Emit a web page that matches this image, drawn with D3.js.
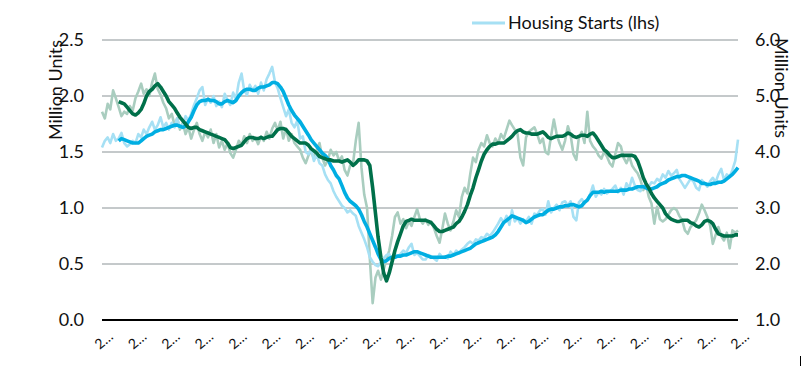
<!DOCTYPE html>
<html><head><meta charset="utf-8">
<script src="https://cdn.jsdelivr.net/npm/d3@7"></script>
<style>
html,body{margin:0;padding:0;background:#fff;}
svg{display:block;font-family:Lato,"Open Sans",sans-serif;}
</style></head><body>
<svg id="chart" width="801" height="367"></svg>
<script>
// ---- data ----
const startMonth = "2000-12";
const tickLabels = ["2000","2001","2002","2003","2004","2005","2006","2007","2008","2009",
  "2010","2011","2012","2013","2014","2015","2016","2017","2018","2019"];
const leftTicks = [0.0, 0.5, 1.0, 1.5, 2.0, 2.5];
const rightTicks = [1.0, 2.0, 3.0, 4.0, 5.0, 6.0];

// Housing starts, monthly (lhs, million units)
const housingStarts = [
1.54,1.60,1.63,1.58,1.66,1.60,1.62,1.67,1.58,1.55,1.57,1.60,
1.58,1.66,1.63,1.70,1.66,1.72,1.77,1.70,1.74,1.81,1.72,1.76,
1.70,1.76,1.72,1.80,1.72,1.74,1.82,1.78,1.84,1.92,1.98,2.05,
2.08,1.92,1.98,1.94,2.00,1.91,1.95,1.90,2.02,1.96,1.92,2.03,
1.97,2.12,2.20,2.05,2.01,2.10,2.05,2.09,2.02,2.12,2.05,2.15,
2.20,2.26,2.12,2.07,1.98,1.90,1.82,1.88,1.76,1.72,1.78,1.62,
1.64,1.50,1.48,1.53,1.42,1.48,1.40,1.38,1.30,1.25,1.22,1.15,
1.10,1.06,1.02,1.00,0.96,0.98,0.95,0.93,0.84,0.78,0.72,0.65,
0.56,0.52,0.49,0.48,0.52,0.55,0.58,0.59,0.53,0.59,0.57,0.59,
0.62,0.60,0.65,0.68,0.58,0.60,0.57,0.54,0.54,0.58,0.57,0.55,
0.53,0.59,0.56,0.57,0.55,0.61,0.58,0.62,0.60,0.63,0.65,0.68,
0.70,0.68,0.72,0.71,0.74,0.73,0.77,0.75,0.78,0.82,0.86,0.91,
0.87,0.93,0.85,0.98,0.88,0.91,0.86,0.90,0.88,0.92,0.86,0.95,
0.94,0.98,0.99,0.94,1.06,0.96,1.00,1.03,0.98,1.05,1.06,1.02,
1.06,0.92,0.89,1.05,1.08,1.04,1.07,1.12,1.20,1.10,1.14,1.12,
1.17,1.13,1.15,1.17,1.20,1.14,1.18,1.12,1.22,1.18,1.27,1.20,
1.16,1.15,1.20,1.18,1.19,1.23,1.22,1.26,1.24,1.30,1.27,1.33,
1.29,1.31,1.34,1.26,1.22,1.18,1.22,1.26,1.24,1.18,1.16,1.25,
1.22,1.19,1.24,1.27,1.23,1.30,1.35,1.25,1.30,1.28,1.34,1.42,
1.61];

// Housing starts, moving average (lhs)
const housingStartsAvg = [
null,null,null,null,null,null,1.60,1.62,1.61,1.60,1.59,1.58,
1.58,1.58,1.60,1.62,1.64,1.65,1.66,1.68,1.69,1.70,1.70,1.71,
1.72,1.73,1.74,1.74,1.73,1.72,1.73,1.77,1.81,1.87,1.92,1.95,
1.96,1.96,1.97,1.96,1.96,1.95,1.93,1.93,1.95,1.96,1.95,1.94,
1.96,2.00,2.03,2.05,2.06,2.06,2.05,2.05,2.07,2.08,2.08,2.09,
2.10,2.12,2.12,2.11,2.08,2.04,1.98,1.92,1.87,1.83,1.80,1.77,
1.73,1.69,1.65,1.61,1.58,1.55,1.52,1.49,1.47,1.44,1.38,1.34,
1.29,1.26,1.20,1.14,1.09,1.06,1.04,1.02,0.99,0.94,0.88,0.83,
0.77,0.71,0.65,0.59,0.54,0.52,0.53,0.55,0.56,0.56,0.57,0.57,
0.58,0.58,0.59,0.60,0.61,0.61,0.60,0.59,0.58,0.57,0.56,0.56,
0.56,0.56,0.56,0.56,0.57,0.57,0.58,0.59,0.60,0.61,0.62,0.63,
0.64,0.66,0.68,0.69,0.70,0.71,0.72,0.73,0.74,0.76,0.79,0.83,
0.87,0.89,0.91,0.93,0.92,0.91,0.90,0.89,0.87,0.88,0.90,0.92,
0.93,0.94,0.94,0.96,0.98,0.99,0.99,1.00,1.01,1.01,1.02,1.02,
1.03,1.03,1.02,1.01,1.02,1.05,1.07,1.11,1.14,1.14,1.14,1.15,
1.14,1.15,1.15,1.15,1.15,1.15,1.16,1.16,1.16,1.17,1.17,1.18,
1.19,1.19,1.19,1.18,1.17,1.17,1.18,1.19,1.21,1.22,1.23,1.25,
1.26,1.27,1.28,1.28,1.29,1.29,1.28,1.27,1.26,1.25,1.24,1.22,
1.22,1.21,1.21,1.22,1.22,1.23,1.23,1.24,1.26,1.28,1.30,1.33,
1.36];

// Home sales, monthly (rhs, million units)
const homeSales = [
4.72,4.60,4.86,4.76,5.10,4.96,4.80,4.64,4.72,4.68,4.82,4.74,
4.96,5.08,5.22,5.04,5.12,5.00,5.24,5.40,5.12,5.02,4.88,4.78,
4.60,4.68,4.48,4.60,4.40,4.52,4.32,4.44,4.24,4.40,4.52,4.32,
4.20,4.36,4.26,4.40,4.16,4.32,4.08,4.20,4.04,4.16,3.98,3.90,
4.04,4.20,4.12,4.28,4.16,4.32,4.20,4.26,4.14,4.28,4.20,4.36,
4.24,4.42,4.52,4.38,4.54,4.24,4.42,4.20,4.32,4.16,4.10,4.04,
3.90,3.80,3.94,4.02,3.88,4.04,4.16,3.90,3.76,3.86,4.04,3.94,
4.00,3.84,3.92,3.68,3.58,3.76,3.80,4.20,4.52,3.72,3.24,3.00,
2.10,1.30,1.76,1.88,1.72,1.90,2.08,2.24,2.50,2.84,2.92,2.72,
2.80,2.64,2.76,2.68,2.84,2.98,2.80,2.72,2.80,2.70,2.76,2.64,
2.50,2.38,2.64,2.90,2.72,2.60,2.76,2.96,2.84,3.20,3.36,3.26,
3.60,3.90,3.82,4.04,4.16,4.10,4.30,4.16,4.10,4.24,4.16,4.32,
4.24,4.40,4.56,4.48,4.40,4.32,3.90,3.76,4.26,4.36,4.40,4.44,
4.32,4.16,4.24,4.00,3.96,4.28,4.58,4.32,4.16,4.04,4.20,4.46,
4.30,3.96,3.86,4.26,4.36,4.16,4.72,4.20,4.10,4.04,3.94,3.88,
4.00,3.92,3.80,3.74,3.96,4.16,4.10,3.90,3.80,3.92,3.76,3.68,
3.62,3.50,3.32,3.44,3.20,3.08,2.72,3.02,2.80,2.76,2.80,2.88,
2.96,3.00,2.96,2.86,2.78,2.60,2.54,2.66,2.72,2.78,2.90,3.06,
2.96,2.84,2.68,2.36,2.52,2.66,2.50,2.42,2.56,2.28,2.60,2.56,
2.60];

// Home sales, moving average (rhs)
const homeSalesAvg = [
null,null,null,null,null,null,4.90,4.88,4.86,4.80,4.74,4.68,
4.66,4.70,4.76,4.86,5.00,5.08,5.12,5.18,5.22,5.16,5.08,5.00,
4.90,4.84,4.78,4.70,4.62,4.56,4.50,4.44,4.42,4.44,4.44,4.40,
4.38,4.36,4.34,4.32,4.30,4.28,4.26,4.24,4.22,4.16,4.08,4.06,
4.08,4.10,4.12,4.18,4.24,4.26,4.26,4.24,4.24,4.26,4.24,4.26,
4.28,4.28,4.34,4.40,4.42,4.42,4.40,4.34,4.28,4.24,4.20,4.16,
4.16,4.16,4.12,4.06,4.02,3.98,3.92,3.90,3.88,3.86,3.86,3.84,
3.84,3.84,3.82,3.84,3.86,3.82,3.76,3.80,3.86,3.86,3.86,3.84,
3.76,3.36,2.90,2.48,2.12,1.84,1.70,1.84,2.04,2.24,2.40,2.54,
2.68,2.76,2.78,2.80,2.78,2.78,2.78,2.78,2.78,2.76,2.74,2.68,
2.62,2.58,2.58,2.60,2.62,2.64,2.66,2.72,2.76,2.84,2.94,3.06,
3.22,3.36,3.54,3.68,3.84,3.96,4.04,4.10,4.14,4.14,4.16,4.16,
4.16,4.20,4.24,4.28,4.34,4.38,4.40,4.36,4.34,4.34,4.32,4.32,
4.32,4.34,4.36,4.32,4.26,4.24,4.26,4.28,4.28,4.28,4.30,4.34,
4.32,4.28,4.26,4.28,4.30,4.30,4.28,4.32,4.34,4.28,4.20,4.12,
4.04,4.00,3.94,3.90,3.90,3.92,3.94,3.94,3.94,3.94,3.94,3.92,
3.84,3.70,3.54,3.44,3.36,3.26,3.18,3.12,3.06,3.00,2.90,2.84,
2.80,2.78,2.76,2.76,2.78,2.78,2.78,2.74,2.72,2.68,2.66,2.70,
2.76,2.78,2.76,2.72,2.62,2.54,2.52,2.50,2.50,2.50,2.50,2.52,
2.52];

// ---- chart ----
const svg = d3.select("#chart");
const parse = d3.timeParse("%Y-%m");
const months = d3.timeMonth.range(parse(startMonth), d3.timeMonth.offset(parse(startMonth), housingStarts.length));
const plotL = 102, plotR = 738, plotT = 40, plotB = 320;

const x = d3.scaleTime().domain([months[0], months[months.length - 1]]).range([plotL, plotR]);
const yL = d3.scaleLinear().domain([0, 2.5]).range([plotB, plotT]);
const yR = d3.scaleLinear().domain([1, 6]).range([plotB, plotT]);

// gridlines
svg.append("g").selectAll("line").data(leftTicks.filter(d => d > 0)).join("line")
  .attr("x1", plotL).attr("x2", plotR)
  .attr("y1", d => yL(d)).attr("y2", d => yL(d))
  .attr("stroke", "#8a9396").attr("stroke-width", 1);

// left axis labels
const axL = svg.append("g").attr("transform", `translate(${plotL},0)`)
  .call(d3.axisLeft(yL).tickValues(leftTicks).tickFormat(d3.format(".1f")).tickSize(0).tickPadding(18));
axL.select(".domain").remove();
axL.selectAll("text").attr("font-size", 18).attr("fill", "#111").attr("font-family", "Lato, sans-serif");

// right axis labels
const axR = svg.append("g").attr("transform", `translate(${plotR},0)`)
  .call(d3.axisRight(yR).tickValues(rightTicks).tickFormat(d3.format(".1f")).tickSize(0).tickPadding(17));
axR.select(".domain").remove();
axR.selectAll("text").attr("font-size", 18).attr("fill", "#111").attr("font-family", "Lato, sans-serif");

// lines
const lineL = d3.line().defined(d => d[1] != null).x(d => x(d[0])).y(d => yL(d[1]));
const lineR = d3.line().defined(d => d[1] != null).x(d => x(d[0])).y(d => yR(d[1]));
const zip = arr => months.map((m, i) => [m, arr[i]]);

svg.append("path").datum(zip(homeSales)).attr("d", lineR)
  .attr("fill", "none").attr("stroke", "#a9cdbf").attr("stroke-width", 2.6).attr("stroke-linejoin", "round");
svg.append("path").datum(zip(housingStarts)).attr("d", lineL)
  .attr("fill", "none").attr("stroke", "#a6e0f4").attr("stroke-width", 2.6).attr("stroke-linejoin", "round");
svg.append("path").datum(zip(housingStartsAvg)).attr("d", lineL)
  .attr("fill", "none").attr("stroke", "#00aee2").attr("stroke-width", 3.6).attr("stroke-linejoin", "round");
svg.append("path").datum(zip(homeSalesAvg)).attr("d", lineR)
  .attr("fill", "none").attr("stroke", "#00704a").attr("stroke-width", 3.6).attr("stroke-linejoin", "round");

// baseline
svg.append("line").attr("x1", plotL).attr("x2", plotR).attr("y1", plotB).attr("y2", plotB)
  .attr("stroke", "#000").attr("stroke-width", 2);

// x tick labels (truncated, rotated)
const tickIdx = tickLabels.map((d, k) => k * 12);
svg.append("g").selectAll("text").data(tickLabels).join("text")
  .attr("transform", (d, k) => `translate(${x(months[tickIdx[k]]) + 12},338) rotate(-40)`)
  .attr("text-anchor", "end").attr("font-size", 14).attr("fill", "#111")
  .text(d => d.charAt(0) + "\u2026");

// axis titles
svg.append("text").attr("transform", "translate(62,90) rotate(-90)").attr("text-anchor", "middle")
  .attr("font-size", 18).attr("fill", "#111").text("Million Units");
svg.append("text").attr("transform", "translate(775,88) rotate(90)").attr("text-anchor", "middle")
  .attr("font-size", 18).attr("fill", "#111").text("Million Units");

// legend
svg.append("line").attr("x1", 472).attr("x2", 505).attr("y1", 23).attr("y2", 23)
  .attr("stroke", "#a6e0f4").attr("stroke-width", 3);
svg.append("text").attr("x", 508).attr("y", 29).attr("font-size", 18).attr("fill", "#111")
  .text("Housing Starts (lhs)");

// small clipped mark at bottom right
svg.append("line").attr("x1", 800.5).attr("x2", 800.5).attr("y1", 356).attr("y2", 366)
  .attr("stroke", "#000").attr("stroke-width", 1);
</script>
</body></html>
